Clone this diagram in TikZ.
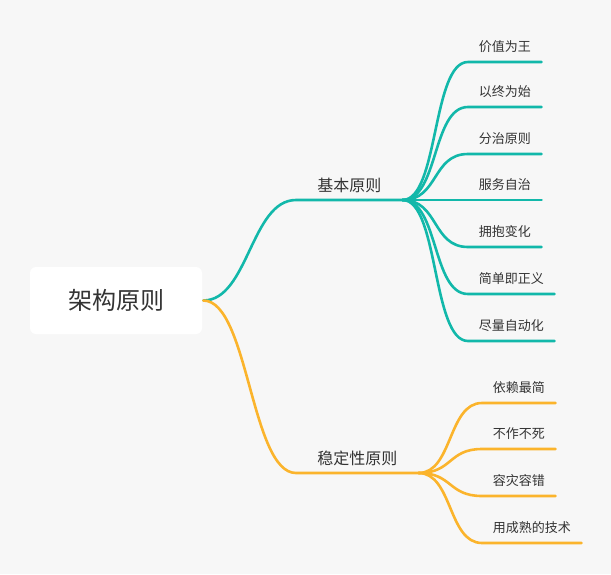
\documentclass[tikz,border=0pt]{standalone}
\usepackage{fontspec}
\newfontfamily\cjk{Noto Sans CJK SC}
\usepackage{xcolor}
\definecolor{bggray}{HTML}{F7F7F7}
\definecolor{mapteal}{HTML}{12B8AA}
\definecolor{maporange}{HTML}{FBB42C}
\definecolor{textgray}{HTML}{333333}
\usepackage{tikz}
\usetikzlibrary{positioning}

\begin{document}
\begin{tikzpicture}[x=1pt, y=-1pt, line width=2.6pt, line cap=round,
	rootbox/.style={fill=white, rounded corners=6pt, minimum width=172pt, minimum height=67pt,
		font=\cjk\fontsize{24}{28}\selectfont, text=textgray},
	branch/.style={anchor=south west, inner xsep=20pt, inner ysep=7.5pt, text depth=0pt,
		font=\cjk\fontsize{16}{19}\selectfont, text=textgray},
	leaf/.style={anchor=south west, inner xsep=9.5pt, inner ysep=9.5pt, text depth=0pt,
		font=\cjk\fontsize{13}{16}\selectfont, text=textgray}]
	
	\fill[bggray] (0, 0) rectangle (611, 574);
	
	\node[rootbox] (arch) at (116, 300.5) {架构原则};
	
	\node[branch] (basic) at (296, 200) {基本原则};
	\node[branch] (stable) at (296, 473) {稳定性原则};
	
	\draw[mapteal] (arch.east) .. controls +(45, 0) and +(-45, 0) .. (basic.south west) -- (basic.south east);
	\draw[maporange] (arch.east) .. controls +(45, 0) and +(-45, 0) .. (stable.south west) -- (stable.south east);
	
	\foreach \name/\txt/\y in {v1/价值为王/62, v2/以终为始/107, v3/分治原则/154, v4/服务自治/200,
		v5/拥抱变化/247, v6/简单即正义/294, v7/尽量自动化/341} {
		\node[leaf] (\name) at (468, \y) {\txt};
		\draw[mapteal] (basic.south east) .. controls +(36, 0) and +(-36, 0) .. (\name.south west) -- (\name.south east);
	}
	
	\foreach \name/\txt/\y in {s1/依赖最简/403, s2/不作不死/449, s3/容灾容错/496, s4/用成熟的技术/543} {
		\node[leaf] (\name) at (482, \y) {\txt};
		\draw[maporange] (stable.south east) .. controls +(34, 0) and +(-34, 0) .. (\name.south west) -- (\name.south east);
	}
\end{tikzpicture}
\end{document}
